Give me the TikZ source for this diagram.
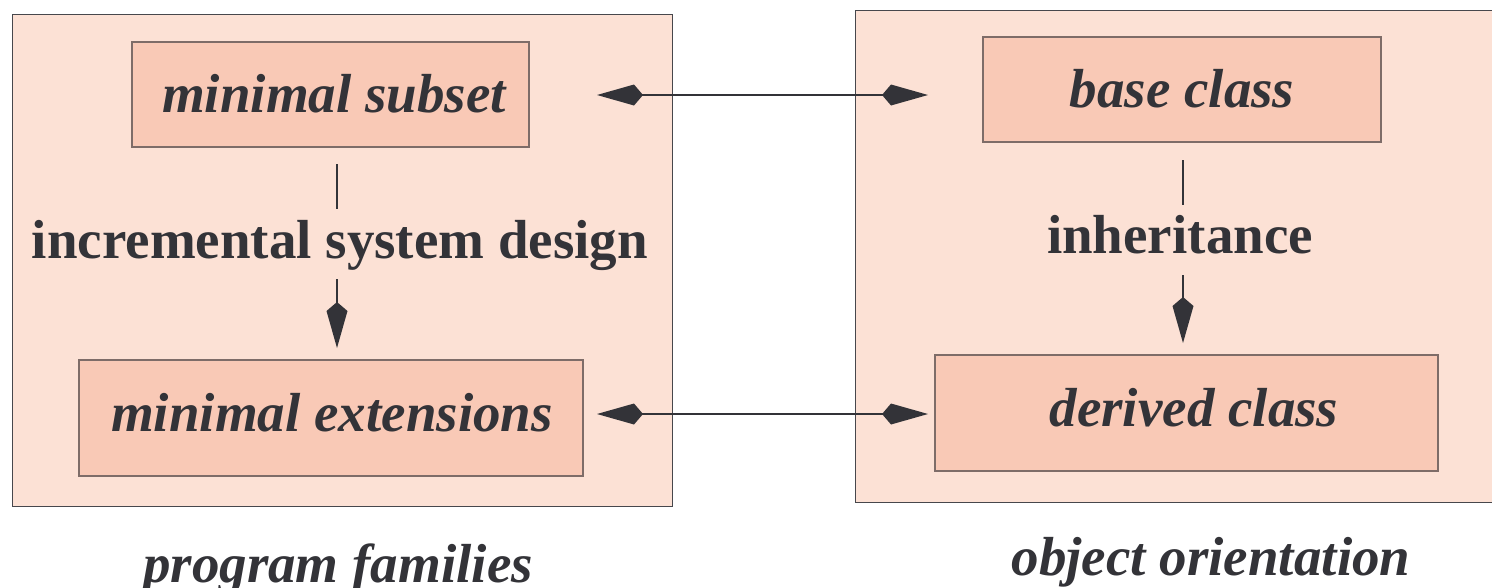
\documentclass[tikz,border=0pt]{standalone}
\usepackage{fontspec}
\setmainfont{Liberation Serif}
\usetikzlibrary{arrows.meta}
\definecolor{outerfill}{HTML}{FCE1D5}
\definecolor{innerfill}{HTML}{F9C9B6}
\definecolor{innerline}{HTML}{7E6C68}
\definecolor{ink}{HTML}{333338}
\begin{document}
\begin{tikzpicture}[x=1pt,y=-1pt,
  outerbox/.style={draw=ink!90, fill=outerfill, line width=1pt},
  innerbox/.style={draw=innerline, fill=innerfill, line width=1.4pt},
  itlabel/.style={font=\fontsize{55}{60}\selectfont\bfseries\itshape, text=ink, inner sep=0pt, anchor=base},
  uplabel/.style={font=\fontsize{55}{60}\selectfont\bfseries, text=ink, inner sep=0pt, anchor=base},
  conn/.style={draw=ink, line width=2pt},
  kitetip/.style={{Kite[length=46pt,width=21pt,inset=9pt]}}
]
\useasboundingbox (0,0) rectangle (1492,587);
% outer boxes
\path[outerbox] (12,14) rectangle (672,506);
\path[outerbox] (855,10) rectangle (1500,502);
% inner boxes
\path[innerbox] (132,42) rectangle (529,147);
\path[innerbox] (79,360) rectangle (583,476);
\path[innerbox] (983,37) rectangle (1381,142);
\path[innerbox] (935,355) rectangle (1438,471);
% texts
\node[itlabel] (ms) at (334,112) {minimal subset};
\node[itlabel] (me) at (332,431) {minimal extensions};
\node[itlabel] (bc) at (1182,107) {base class};
\node[itlabel] (dc) at (1194,426) {derived class};
\node[uplabel] (isd) at (340,258) {incremental system design};
\node[uplabel] (inh) at (1180,253) {inheritance};
\node[itlabel] (pf) at (338,582) {program families};
\node[itlabel] (oo) at (1211,575) {object orientation};
% connector coordinates
\coordinate (l1a) at (337,164); \coordinate (l1b) at (337,209);
\coordinate (l2a) at (337,279); \coordinate (l2b) at (337,348);
\coordinate (r1a) at (1183,160); \coordinate (r1b) at (1183,205);
\coordinate (r2a) at (1183,275); \coordinate (r2b) at (1183,343);
\coordinate (t1) at (597,95); \coordinate (t2) at (928,95);
\coordinate (b1) at (597,414); \coordinate (b2) at (928,414);
% connectors
\draw[conn, line width=1.5pt] (l1a) -- (l1b);
\draw[conn, -{Kite[length=46pt,width=21pt,inset=9pt]}] (l2a) -- (l2b);
\draw[conn, line width=1.5pt] (r1a) -- (r1b);
\draw[conn, -{Kite[length=46pt,width=21pt,inset=9pt]}] (r2a) -- (r2b);
\draw[conn, {Kite[length=46pt,width=21pt,inset=9pt]}-{Kite[length=46pt,width=21pt,inset=9pt]}] (t1) -- (t2);
\draw[conn, {Kite[length=46pt,width=21pt,inset=9pt]}-{Kite[length=46pt,width=21pt,inset=9pt]}] (b1) -- (b2);
\end{tikzpicture}
\end{document}
